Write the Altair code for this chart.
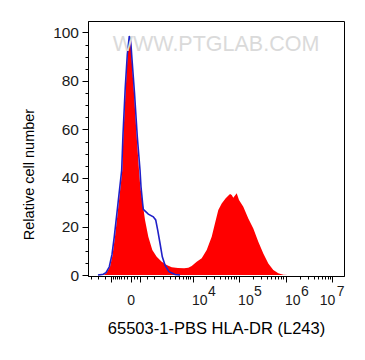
import altair as alt
import pandas as pd

# Stained sample (red filled histogram): fluorescence value, relative count
red_x = [-2017, -1440, -1198, -894, -733, -590, -407, -259, -222, -148,
         -87, -36, 0, 20, 89, 174, 255, 306, 407, 517,
         697, 958, 1310, 1815, 2461, 3285, 4657, 6424, 8047, 9600,
         12404, 15988, 20563, 26412, 31136, 36689, 43444, 52936, 65508, 71210,
         77063, 91111, 102055, 126079, 161251, 206196, 263560, 336860, 430500, 549900,
         702800, 898100, 1130800]
red_y = [0, 0, 0.5, 3.4, 8, 15.8, 29.5, 43.3, 57, 75,
         90, 98, 95, 90, 75, 57, 43.3, 36.4, 29.5, 22.7,
         15.8, 10.3, 7.5, 5.5, 4.1, 3.2, 2.9, 2.8, 3, 3.7,
         5.5, 6.9, 10.3, 15.8, 21.3, 26.8, 29.5, 31.6, 33.4, 33,
         31.8, 33.7, 30.9, 28.1, 23.3, 19.2, 13.7, 8.9, 4.8, 2.1,
         0.7, 0.1, 0]

# Control (blue line)
blue_x = [-2017, -1440, -1198, -943, -763, -628, -439, -282, -233, -157,
          -92, -36, 0, 28, 104, 194, 294, 334, 399, 435,
          697, 1031, 1223, 1402, 1630, 1885, 2223, 2815, 3951, 5187]
blue_y = [0, 0.3, 1, 3.4, 8.5, 15.8, 29.5, 43.3, 58, 77,
          91, 98.5, 96.5, 90, 75, 57, 43.3, 36.4, 30, 27.1,
          25.1, 24, 22.7, 18.5, 13.1, 7.5, 4.1, 1.4, 0.2, 0]

x_major = [-800, 0, 300, 10000, 100000, 1000000, 10000000]
x_decades = [10000, 100000, 1000000, 10000000]
x_minor = [-3000, -2000, -1300, -700, -600, -500, -400, -300, -200, -100, 100, 200,
           600, 1100, 2000, 3000, 4000, 5000, 6000, 7000, 8000, 9000,
           20000, 30000, 40000, 50000, 60000, 70000, 80000, 90000,
           200000, 300000, 400000, 500000, 600000, 700000, 800000, 900000,
           2000000, 3000000, 4000000, 5000000, 6000000, 7000000, 8000000, 9000000]
y_major = [0, 20, 40, 60, 80, 100]
y_minor = [0, 5, 10, 15, 20, 25, 30, 35, 40, 45, 50, 55, 60, 65, 70, 75, 80, 85, 90, 95, 100]

red = pd.DataFrame({"x": red_x, "y": red_y})
blue = pd.DataFrame({"x": blue_x, "y": blue_y})

FONT = "Liberation Sans"
LABEL = "#1a1a1a"
xscale = alt.Scale(type="symlog", constant=509, domain=[-3614, 17570000], nice=False)
yscale = alt.Scale(domain=[-0.4, 104.7], nice=False, zero=False)

area = alt.Chart(red).mark_area(color="#ff0000", interpolate="linear").encode(
    x=alt.X("x:Q", scale=xscale,
            axis=alt.Axis(orient="bottom", values=x_major,
                          labelExpr="datum.value == 0 ? '0' : ''",
                          tickSize=6, labelPadding=11,
                          labelFont=FONT, labelFontSize=14, labelColor=LABEL,
                          labelFlush=False, labelOverlap=False,
                          domainColor="black", tickColor="black", grid=False, zindex=1,
                          title="65503-1-PBS HLA-DR (L243)", titleFont=FONT,
                          titleFontSize=16.5, titleFontWeight="normal", titleColor="black",
                          titleY=57, titleBaseline="alphabetic")),
    y=alt.Y("y:Q", scale=yscale,
            axis=alt.Axis(orient="left", values=y_major, tickSize=6, labelPadding=3.5,
                          labelFont=FONT, labelFontSize=15.5, labelColor=LABEL,
                          labelFlush=False, labelOverlap=False,
                          domainColor="black", tickColor="black", grid=False, zindex=1,
                          title="Relative cell number", titleFont=FONT, titleFontSize=14.5,
                          titleFontWeight="normal", titleColor="black",
                          titleX=-55, titleY=153, titleBaseline="alphabetic")),
)

line = alt.Chart(blue).mark_line(color="#2020c8", strokeWidth=1.6, interpolate="linear").encode(
    x=alt.X("x:Q", scale=xscale,
            axis=alt.Axis(orient="bottom", values=x_minor, labels=False, tickSize=3,
                          domain=False, tickColor="black", grid=False, title=None, zindex=1)),
    y=alt.Y("y:Q", scale=yscale,
            axis=alt.Axis(orient="left", values=y_minor, labels=False, tickSize=3,
                          domain=False, tickColor="black", grid=False, title=None, zindex=1)),
)

bases = alt.Chart(blue).mark_line(opacity=0).encode(
    x=alt.X("x:Q", scale=xscale,
            axis=alt.Axis(orient="bottom", values=x_decades, labelExpr="'10'",
                          ticks=False, tickSize=0, domain=False, labelPadding=17,
                          labelAlign={"condition": {"test": "datum.value >= 10000000", "value": "right"},
                                      "value": "left"},
                          labelOffset={"condition": {"test": "datum.value >= 10000000", "value": 2.4},
                                       "value": -1},
                          labelFont=FONT, labelFontSize=14, labelColor=LABEL,
                          labelFlush=False, labelOverlap=False, grid=False, title=None)),
    y=alt.Y("y:Q", scale=yscale, axis=None),
)

exps = alt.Chart(blue).mark_line(opacity=0).encode(
    x=alt.X("x:Q", scale=xscale,
            axis=alt.Axis(orient="bottom", values=x_decades,
                          labelExpr="'' + (length(toString(datum.value)) - 1)",
                          ticks=False, tickSize=0, domain=False, labelPadding=8.5,
                          labelAlign="left",
                          labelOffset={"condition": {"test": "datum.value >= 10000000", "value": 3.7},
                                       "value": 15},
                          labelFont=FONT, labelFontSize=14, labelColor=LABEL,
                          labelFlush=False, labelOverlap=False, grid=False, title=None)),
    y=alt.Y("y:Q", scale=yscale, axis=None),
)

chart = alt.layer(area, line, bases, exps).resolve_axis(x="independent", y="independent").properties(
    width=256, height=255,
    autosize=alt.AutoSizeParams(type="none"),
    padding={"left": 80, "top": 13, "right": 13, "bottom": 70},
    title=alt.TitleParams(text="WWW.PTGLAB.COM", orient="top", anchor="middle", frame="group",
                          offset=-51, baseline="alphabetic", font=FONT, fontSize=21.5,
                          fontWeight="normal", color="#dadada"),
).configure_view(stroke="black", strokeWidth=1)

chart.save("out.html", embed_options={"renderer": "svg", "actions": False})
